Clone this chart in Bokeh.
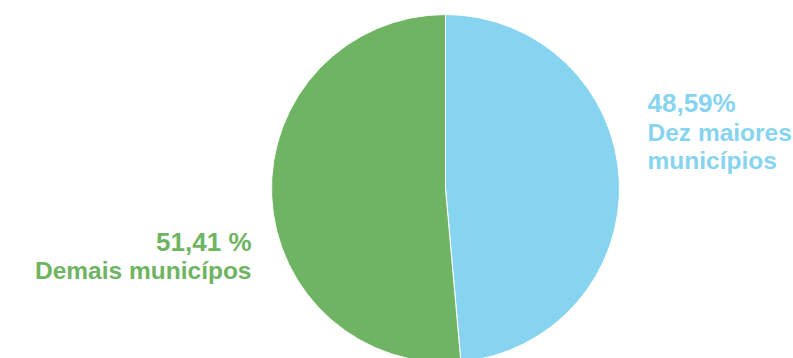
import math
from bokeh.plotting import figure
from bokeh.models import Range1d, ColumnDataSource
from bokeh.embed import file_html
from bokeh.resources import INLINE
from bokeh.core.properties import value

categories = ["Dez maiores municípios", "Demais municípos"]
shares = [48.59, 51.41]
share_labels = ["48,59%", "51,41 %"]

COLORS = ["#87D4F1", "#6FB462"]

W, H = 793, 358
p = figure(width=W, height=H, output_backend="svg", toolbar_location=None,
           x_range=Range1d(0, W), y_range=Range1d(0, H), min_border=0)
p.axis.visible = False
p.grid.visible = False
p.outline_line_color = None
p.background_fill_color = "white"
p.border_fill_color = "white"

cx, cy, r = 445, H - 188, 174

# slices start at 12 o'clock going clockwise
total = sum(shares)
starts, ends = [], []
acc = 0.0
for v in shares:
    a0 = math.pi / 2 - 2 * math.pi * acc / total
    a1 = math.pi / 2 - 2 * math.pi * (acc + v) / total
    starts.append(a1)
    ends.append(a0)
    acc += v

src = ColumnDataSource(dict(x=[cx] * len(shares), y=[cy] * len(shares),
                            start=starts, end=ends, color=COLORS, cat=categories))
p.wedge(x="x", y="y", radius=r, start_angle="start", end_angle="end",
        fill_color="color", line_color="white", line_width=1, source=src)

font = value("Liberation Sans")
# right labels (blue)
p.text(x=[647], y=[H - 102], text=[share_labels[0]],
       text_font=font, text_font_style="bold", text_font_size="26px",
       text_color=COLORS[0], text_align="left", text_baseline="alphabetic")
p.text(x=[647, 647], y=[H - 132, H - 160],
       text=["Dez maiores", "municípios"],
       text_font=font, text_font_style="bold", text_font_size="24.5px",
       text_color=COLORS[0], text_align="left", text_baseline="alphabetic")
# left labels (green)
p.text(x=[251], y=[H - 241], text=[share_labels[1]],
       text_font=font, text_font_style="bold", text_font_size="26px",
       text_color=COLORS[1], text_align="right", text_baseline="alphabetic")
p.text(x=[251], y=[H - 270], text=[categories[1]],
       text_font=font, text_font_style="bold", text_font_size="24.5px",
       text_color=COLORS[1], text_align="right", text_baseline="alphabetic")

open("out.html", "w").write(file_html(p, INLINE))
